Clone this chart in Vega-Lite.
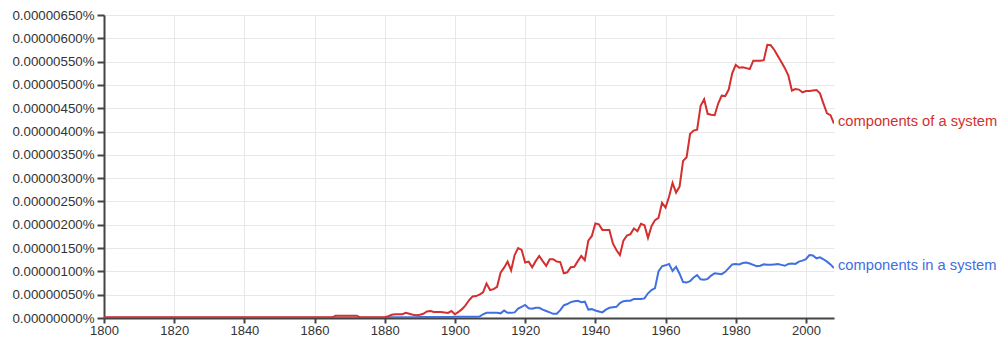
{
"$schema":"https://vega.github.io/schema/vega-lite/v6.json",
"width":730,"height":303,
"autosize":{"type":"none"},
"padding":{"left":104,"top":15,"right":172,"bottom":23},
"background":"white",
"config":{"view":{"stroke":null},"font":"Liberation Sans"},
"data":{"values":[
{"year":1800,"b":0.5e-8,"r":1.5e-8},{"year":1801,"b":0.5e-8,"r":1.5e-8},{"year":1802,"b":0.5e-8,"r":1.5e-8},{"year":1803,"b":0.5e-8,"r":1.5e-8},{"year":1804,"b":0.5e-8,"r":1.5e-8},{"year":1805,"b":0.5e-8,"r":1.5e-8},{"year":1806,"b":0.5e-8,"r":1.5e-8},{"year":1807,"b":0.5e-8,"r":1.5e-8},{"year":1808,"b":0.5e-8,"r":1.5e-8},{"year":1809,"b":0.5e-8,"r":1.5e-8},
{"year":1810,"b":0.5e-8,"r":1.5e-8},{"year":1811,"b":0.5e-8,"r":1.5e-8},{"year":1812,"b":0.5e-8,"r":1.5e-8},{"year":1813,"b":0.5e-8,"r":1.5e-8},{"year":1814,"b":0.5e-8,"r":1.5e-8},{"year":1815,"b":0.5e-8,"r":1.5e-8},{"year":1816,"b":0.5e-8,"r":1.5e-8},{"year":1817,"b":0.5e-8,"r":1.5e-8},{"year":1818,"b":0.5e-8,"r":1.5e-8},{"year":1819,"b":0.5e-8,"r":1.5e-8},
{"year":1820,"b":0.5e-8,"r":1.5e-8},{"year":1821,"b":0.5e-8,"r":1.5e-8},{"year":1822,"b":0.5e-8,"r":1.5e-8},{"year":1823,"b":0.5e-8,"r":1.5e-8},{"year":1824,"b":0.5e-8,"r":1.5e-8},{"year":1825,"b":0.5e-8,"r":1.5e-8},{"year":1826,"b":0.5e-8,"r":1.5e-8},{"year":1827,"b":0.5e-8,"r":1.5e-8},{"year":1828,"b":0.5e-8,"r":1.5e-8},{"year":1829,"b":0.5e-8,"r":1.5e-8},
{"year":1830,"b":0.5e-8,"r":1.5e-8},{"year":1831,"b":0.5e-8,"r":1.5e-8},{"year":1832,"b":0.5e-8,"r":1.5e-8},{"year":1833,"b":0.5e-8,"r":1.5e-8},{"year":1834,"b":0.5e-8,"r":1.5e-8},{"year":1835,"b":0.5e-8,"r":1.5e-8},{"year":1836,"b":0.5e-8,"r":1.5e-8},{"year":1837,"b":0.5e-8,"r":1.5e-8},{"year":1838,"b":0.5e-8,"r":1.5e-8},{"year":1839,"b":0.5e-8,"r":1.5e-8},
{"year":1840,"b":0.5e-8,"r":1.5e-8},{"year":1841,"b":0.5e-8,"r":1.5e-8},{"year":1842,"b":0.5e-8,"r":1.5e-8},{"year":1843,"b":0.5e-8,"r":1.5e-8},{"year":1844,"b":0.5e-8,"r":1.5e-8},{"year":1845,"b":0.5e-8,"r":1.5e-8},{"year":1846,"b":0.5e-8,"r":1.5e-8},{"year":1847,"b":0.5e-8,"r":1.5e-8},{"year":1848,"b":0.5e-8,"r":1.5e-8},{"year":1849,"b":0.5e-8,"r":1.5e-8},
{"year":1850,"b":0.5e-8,"r":1.5e-8},{"year":1851,"b":0.5e-8,"r":1.5e-8},{"year":1852,"b":0.5e-8,"r":1.5e-8},{"year":1853,"b":0.5e-8,"r":1.5e-8},{"year":1854,"b":0.5e-8,"r":1.5e-8},{"year":1855,"b":0.5e-8,"r":1.5e-8},{"year":1856,"b":0.5e-8,"r":1.5e-8},{"year":1857,"b":0.5e-8,"r":1.5e-8},{"year":1858,"b":0.5e-8,"r":1.5e-8},{"year":1859,"b":0.5e-8,"r":1.5e-8},
{"year":1860,"b":0.5e-8,"r":1.5e-8},{"year":1861,"b":0.5e-8,"r":1.5e-8},{"year":1862,"b":0.5e-8,"r":1.5e-8},{"year":1863,"b":0.5e-8,"r":1.5e-8},{"year":1864,"b":0.5e-8,"r":1.5e-8},{"year":1865,"b":0.5e-8,"r":1.5e-8},{"year":1866,"b":0.5e-8,"r":5e-8},{"year":1867,"b":0.5e-8,"r":5e-8},{"year":1868,"b":0.5e-8,"r":5e-8},{"year":1869,"b":0.5e-8,"r":5e-8},
{"year":1870,"b":0.5e-8,"r":5e-8},{"year":1871,"b":0.5e-8,"r":5e-8},{"year":1872,"b":0.5e-8,"r":5e-8},{"year":1873,"b":0.5e-8,"r":1.5e-8},{"year":1874,"b":0.5e-8,"r":1.5e-8},{"year":1875,"b":0.5e-8,"r":1.5e-8},{"year":1876,"b":0.5e-8,"r":1.5e-8},{"year":1877,"b":0.5e-8,"r":1.5e-8},{"year":1878,"b":0.5e-8,"r":1.5e-8},{"year":1879,"b":0.5e-8,"r":1.5e-8},
{"year":1880,"b":0.5e-8,"r":1.5e-8},{"year":1881,"b":1.5e-8,"r":4e-8},{"year":1882,"b":1.5e-8,"r":7e-8},{"year":1883,"b":1.5e-8,"r":8e-8},{"year":1884,"b":1.5e-8,"r":8e-8},{"year":1885,"b":1.5e-8,"r":8e-8},{"year":1886,"b":1.5e-8,"r":11e-8},{"year":1887,"b":1.5e-8,"r":9e-8},{"year":1888,"b":1.5e-8,"r":7e-8},{"year":1889,"b":1.5e-8,"r":6e-8},
{"year":1890,"b":2e-8,"r":7e-8},{"year":1891,"b":2e-8,"r":9e-8},{"year":1892,"b":2e-8,"r":14e-8},{"year":1893,"b":2e-8,"r":15e-8},{"year":1894,"b":2e-8,"r":13e-8},{"year":1895,"b":2e-8,"r":13e-8},{"year":1896,"b":2e-8,"r":13e-8},{"year":1897,"b":2e-8,"r":12e-8},{"year":1898,"b":2e-8,"r":11e-8},{"year":1899,"b":2e-8,"r":15e-8},
{"year":1900,"b":2.5e-8,"r":8e-8},{"year":1901,"b":2.5e-8,"r":13e-8},{"year":1902,"b":2.5e-8,"r":19e-8},{"year":1903,"b":2.5e-8,"r":27e-8},{"year":1904,"b":2.5e-8,"r":38e-8},{"year":1905,"b":2.5e-8,"r":46e-8},{"year":1906,"b":2.5e-8,"r":47e-8},{"year":1907,"b":3e-8,"r":50e-8},{"year":1908,"b":8e-8,"r":55e-8},{"year":1909,"b":11e-8,"r":74e-8},
{"year":1910,"b":11e-8,"r":60e-8},{"year":1911,"b":11e-8,"r":62e-8},{"year":1912,"b":11e-8,"r":67e-8},{"year":1913,"b":10e-8,"r":97e-8},{"year":1914,"b":16e-8,"r":108e-8},{"year":1915,"b":11e-8,"r":121e-8},{"year":1916,"b":11e-8,"r":102e-8},{"year":1917,"b":12e-8,"r":135e-8},{"year":1918,"b":20e-8,"r":150e-8},{"year":1919,"b":24e-8,"r":146e-8},
{"year":1920,"b":28e-8,"r":119e-8},{"year":1921,"b":21e-8,"r":121e-8},{"year":1922,"b":20e-8,"r":109e-8},{"year":1923,"b":22e-8,"r":122e-8},{"year":1924,"b":22e-8,"r":133e-8},{"year":1925,"b":18e-8,"r":122e-8},{"year":1926,"b":15e-8,"r":112e-8},{"year":1927,"b":12e-8,"r":126e-8},{"year":1928,"b":9e-8,"r":126e-8},{"year":1929,"b":9e-8,"r":121e-8},
{"year":1930,"b":17e-8,"r":120e-8},{"year":1931,"b":27e-8,"r":96e-8},{"year":1932,"b":30e-8,"r":98e-8},{"year":1933,"b":34e-8,"r":109e-8},{"year":1934,"b":36e-8,"r":110e-8},{"year":1935,"b":37e-8,"r":122e-8},{"year":1936,"b":34e-8,"r":133e-8},{"year":1937,"b":35e-8,"r":124e-8},{"year":1938,"b":18e-8,"r":166e-8},{"year":1939,"b":19e-8,"r":176e-8},
{"year":1940,"b":16e-8,"r":203e-8},{"year":1941,"b":14e-8,"r":201e-8},{"year":1942,"b":12e-8,"r":189e-8},{"year":1943,"b":18e-8,"r":189e-8},{"year":1944,"b":22e-8,"r":189e-8},{"year":1945,"b":23e-8,"r":160e-8},{"year":1946,"b":24e-8,"r":146e-8},{"year":1947,"b":32e-8,"r":135e-8},{"year":1948,"b":36e-8,"r":166e-8},{"year":1949,"b":37e-8,"r":177e-8},
{"year":1950,"b":37e-8,"r":180e-8},{"year":1951,"b":41e-8,"r":192e-8},{"year":1952,"b":41e-8,"r":186e-8},{"year":1953,"b":41e-8,"r":202e-8},{"year":1954,"b":42e-8,"r":199e-8},{"year":1955,"b":53e-8,"r":172e-8},{"year":1956,"b":60e-8,"r":197e-8},{"year":1957,"b":64e-8,"r":210e-8},{"year":1958,"b":100e-8,"r":215e-8},{"year":1959,"b":111e-8,"r":247e-8},
{"year":1960,"b":113e-8,"r":237e-8},{"year":1961,"b":116e-8,"r":260e-8},{"year":1962,"b":101e-8,"r":290e-8},{"year":1963,"b":110e-8,"r":269e-8},{"year":1964,"b":95e-8,"r":282e-8},{"year":1965,"b":77e-8,"r":337e-8},{"year":1966,"b":76e-8,"r":345e-8},{"year":1967,"b":79e-8,"r":395e-8},{"year":1968,"b":87e-8,"r":402e-8},{"year":1969,"b":92e-8,"r":404e-8},
{"year":1970,"b":83e-8,"r":455e-8},{"year":1971,"b":82e-8,"r":469e-8},{"year":1972,"b":84e-8,"r":438e-8},{"year":1973,"b":91e-8,"r":436e-8},{"year":1974,"b":96e-8,"r":435e-8},{"year":1975,"b":95e-8,"r":460e-8},{"year":1976,"b":94e-8,"r":477e-8},{"year":1977,"b":99e-8,"r":476e-8},{"year":1978,"b":107e-8,"r":490e-8},{"year":1979,"b":115e-8,"r":525e-8},
{"year":1980,"b":116e-8,"r":543e-8},{"year":1981,"b":115e-8,"r":537e-8},{"year":1982,"b":118e-8,"r":538e-8},{"year":1983,"b":119e-8,"r":536e-8},{"year":1984,"b":117e-8,"r":534e-8},{"year":1985,"b":114e-8,"r":552e-8},{"year":1986,"b":111e-8,"r":552e-8},{"year":1987,"b":112e-8,"r":552e-8},{"year":1988,"b":115e-8,"r":553e-8},{"year":1989,"b":114e-8,"r":586e-8},
{"year":1990,"b":114e-8,"r":585e-8},{"year":1991,"b":115e-8,"r":575e-8},{"year":1992,"b":116e-8,"r":562e-8},{"year":1993,"b":114e-8,"r":549e-8},{"year":1994,"b":112e-8,"r":536e-8},{"year":1995,"b":116e-8,"r":520e-8},{"year":1996,"b":117e-8,"r":488e-8},{"year":1997,"b":116e-8,"r":491e-8},{"year":1998,"b":121e-8,"r":490e-8},{"year":1999,"b":123e-8,"r":484e-8},
{"year":2000,"b":126e-8,"r":487e-8},{"year":2001,"b":135e-8,"r":487e-8},{"year":2002,"b":134e-8,"r":488e-8},{"year":2003,"b":128e-8,"r":489e-8},{"year":2004,"b":130e-8,"r":482e-8},{"year":2005,"b":126e-8,"r":460e-8},{"year":2006,"b":121e-8,"r":439e-8},{"year":2007,"b":115e-8,"r":435e-8},{"year":2008,"b":107e-8,"r":417e-8}
]},
"transform":[
{"fold":["b","r"],"as":["series","value"]},
{"lookup":"series","from":{"data":{"values":[{"series":"r","phrase":"components of a system"},{"series":"b","phrase":"components in a system"}]},"key":"series","fields":["phrase"]}}
],
"encoding":{
"x":{"field":"year","type":"quantitative","scale":{"domain":[1800,2008],"nice":false,"zero":false},
"axis":{"title":null,"values":[1800,1820,1840,1860,1880,1900,1920,1940,1960,1980,2000],"format":"d","grid":true,"gridColor":"#e8e8e8","domainColor":"#444","domainWidth":2,"tickColor":"#444","tickWidth":2,"tickSize":5,"labelFontSize":13,"labelColor":"#333","labelPadding":1,"labelFlush":false}},
"y":{"field":"value","type":"quantitative","scale":{"domain":[0,6.5e-6],"nice":false},
"axis":{"title":null,"values":[0,5e-7,1e-6,1.5e-6,2e-6,2.5e-6,3e-6,3.5e-6,4e-6,4.5e-6,5e-6,5.5e-6,6e-6,6.5e-6],"labelExpr":"format(datum.value,'.8f')+'%'","grid":true,"gridColor":"#e8e8e8","domainColor":"#444","domainWidth":2,"tickColor":"#444","tickWidth":2,"tickSize":7,"labelFontSize":13.3,"labelColor":"#333","labelPadding":3}},
"color":{"field":"series","type":"nominal","scale":{"domain":["b","r"],"range":["#3f6fe0","#d42f2f"]},"legend":null}
},
"layer":[
{"mark":{"type":"line","strokeWidth":2,"clip":true}},
{"transform":[{"filter":"datum.year == 2008"}],
"mark":{"type":"text","align":"left","baseline":"middle","dx":4,"dy":-2,"fontSize":14.7},
"encoding":{"text":{"field":"phrase"}}}
]
}
